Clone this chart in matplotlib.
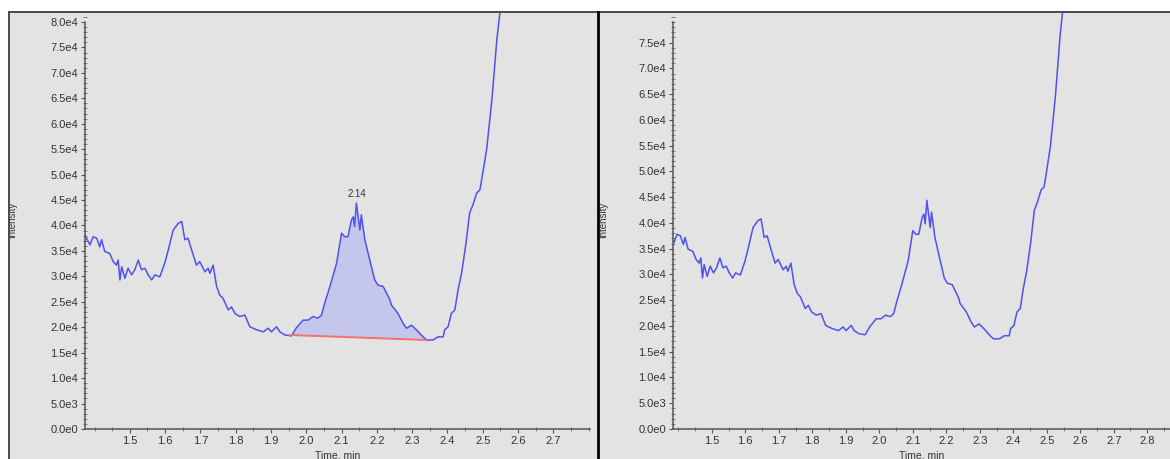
import numpy as np
import matplotlib
matplotlib.use('Agg')
import matplotlib.pyplot as plt
from matplotlib.ticker import MultipleLocator, FixedLocator, FuncFormatter
from matplotlib.lines import Line2D
from matplotlib.patches import Rectangle

plt.rcParams['font.family'] = ['Liberation Sans', 'DejaVu Sans']

# chromatogram trace (time in min, intensity in counts)
time_min = [1.373, 1.387, 1.396, 1.406, 1.415, 1.420, 1.429, 1.443, 1.453, 1.462,
            1.467, 1.472, 1.477, 1.486, 1.495, 1.505, 1.514, 1.524, 1.533, 1.543,
            1.552, 1.562, 1.571, 1.585, 1.599, 1.609, 1.623, 1.637, 1.647, 1.656,
            1.665, 1.675, 1.689, 1.698, 1.713, 1.722, 1.727, 1.736, 1.746, 1.755,
            1.764, 1.779, 1.788, 1.798, 1.812, 1.826, 1.840, 1.859, 1.878, 1.892,
            1.901, 1.916, 1.925, 1.939, 1.958, 1.972, 1.991, 2.005, 2.019, 2.033,
            2.043, 2.052, 2.067, 2.086, 2.100, 2.109, 2.118, 2.128, 2.133, 2.137,
            2.142, 2.147, 2.152, 2.156, 2.166, 2.180, 2.194, 2.203, 2.218, 2.237,
            2.241, 2.260, 2.274, 2.284, 2.298, 2.312, 2.331, 2.341, 2.359, 2.373,
            2.388, 2.392, 2.402, 2.411, 2.421, 2.430, 2.440, 2.452, 2.463, 2.472,
            2.483, 2.492, 2.497, 2.511, 2.526, 2.540, 2.548, 2.557]
intensity = [38100, 36200, 37800, 37500, 35800, 37200, 34900, 34500, 32900, 32200,
             33200, 29300, 31900, 29600, 31600, 30300, 31300, 33200, 31300, 31600,
             30300, 29300, 30300, 29900, 32600, 35200, 39100, 40400, 40800, 37200,
             37500, 35200, 32200, 32900, 30900, 31600, 30600, 32200, 28000, 26300,
             25700, 23400, 24000, 22700, 22100, 22400, 20100, 19500, 19100, 19800,
             19100, 20100, 19100, 18500, 18300, 19900, 21400, 21400, 22100, 21800,
             22400, 24700, 28000, 32600, 38500, 37800, 37800, 41100, 41700, 39800,
             44400, 41700, 39100, 42100, 37200, 33200, 29300, 28300, 28000, 25400,
             24400, 22700, 20800, 19800, 20400, 19500, 18100, 17500, 17500, 18100,
             18100, 19500, 20100, 22700, 23400, 27300, 30600, 36200, 42500, 44000,
             46400, 47000, 49000, 54900, 64700, 76500, 81400, 86300]

# integrated peak on the left panel
peak_label = '2.14'
peak_rt = 2.143
label_height = 45200
peak_start = 1.953
peak_end = 2.338
baseline_start = 18480
baseline_end = 17500

left_ticks = [1.5, 1.6, 1.7, 1.8, 1.9, 2.0, 2.1, 2.2, 2.3, 2.4, 2.5, 2.6, 2.7]
right_ticks = [1.5, 1.6, 1.7, 1.8, 1.9, 2.0, 2.1, 2.2, 2.3, 2.4, 2.5, 2.6, 2.7, 2.8]

bg = '#e3e3e3'
line_col = '#4f52ee'
axis_col = '#555555'
W, H = 1170.0, 459.0


def sci_fmt(v, pos):
    if v == 0:
        return '0.0e0'
    e = int(np.floor(np.log10(abs(v))))
    return '%.1fe%d' % (v / 10.0 ** e, e)


def style_axes(ax, xlim, ylim, ytop, xticks):
    ax.set_facecolor(bg)
    ax.set_xlim(xlim)
    ax.set_ylim(ylim)
    ax.spines['top'].set_visible(False)
    ax.spines['right'].set_visible(False)
    for s in ['left', 'bottom']:
        ax.spines[s].set_color(axis_col)
        ax.spines[s].set_linewidth(1.1)
    ax.spines['left'].set_bounds(0, ytop)
    ax.yaxis.set_major_locator(FixedLocator(np.arange(0, ytop + 1, 5000)))
    ax.yaxis.set_minor_locator(MultipleLocator(1000))
    ax.yaxis.set_major_formatter(FuncFormatter(sci_fmt))
    ax.xaxis.set_major_locator(FixedLocator(xticks))
    ax.xaxis.set_minor_locator(MultipleLocator(0.05))
    ax.tick_params(which='major', direction='out', length=3, width=0.8,
                   color=axis_col, labelsize=8, labelcolor='#333333', pad=2)
    ax.tick_params(which='minor', direction='inout', length=2.5, width=0.6,
                   color='#666666')
    ax.set_ylabel('Intensity', fontsize=7, color='#333333')
    ax.set_xlabel('Time, min', fontsize=7.5, color='#333333')


fig = plt.figure(figsize=(W / 100, H / 100), dpi=100, facecolor=bg)

t = np.array(time_min)
y = np.array(intensity)

# left panel, with integrated peak
ax1 = fig.add_axes([85 / W, 30 / H, 505 / W, 418 / H])
style_axes(ax1, (1.373, 2.804), (0, 82160), 80000, left_ticks)
ax1.yaxis.set_label_coords(-0.135, 0.5)
ax1.xaxis.set_label_coords(0.5, -21 / 418)

inside = (t > peak_start) & (t < peak_end)
xs = np.concatenate([[peak_start], t[inside], [peak_end]])
ys = np.interp(xs, t, y)
base = np.interp(xs, [peak_start, peak_end], [baseline_start, baseline_end])
ax1.fill_between(xs, base, ys, color='#c5c6ec', lw=0)
ax1.plot(t, y, color=line_col, lw=1.1)
ax1.plot([peak_start, peak_end], [baseline_start, baseline_end], color='#f07272', lw=1.4)
ax1.text(peak_rt, label_height, peak_label, ha='center', va='bottom', fontsize=7, color='#333333')

# right panel, raw trace only
ax2 = fig.add_axes([673 / W, 30 / H, 497 / W, 418 / H])
style_axes(ax2, (1.384, 2.868), (0, 81135), 79000, right_ticks)
ax2.yaxis.set_label_coords(-0.13, 0.5)
ax2.xaxis.set_label_coords(0.5, -21 / 418)
ax2.plot(t, y, color=line_col, lw=1.1)

# screenshot frame: white strips, panel borders, separator
fig.patches.append(Rectangle((0, 1 - 10 / H), 1, 10 / H, transform=fig.transFigure,
                             color='white', zorder=5))
fig.patches.append(Rectangle((0, 0), 7.5 / W, 1, transform=fig.transFigure,
                             color='white', zorder=5))
fig.add_artist(Line2D([8.5 / W, 1], [1 - 11.5 / H, 1 - 11.5 / H], color='#4a4a4a', lw=1.4, zorder=6))
fig.add_artist(Line2D([8.5 / W, 8.5 / W], [0, 1 - 11.5 / H], color='#4a4a4a', lw=1.4, zorder=6))
fig.add_artist(Line2D([597.5 / W, 597.5 / W], [0, 1 - 11.5 / H], color='black', lw=2.0, zorder=6))

fig.savefig('out.png', dpi=100, facecolor=bg)
